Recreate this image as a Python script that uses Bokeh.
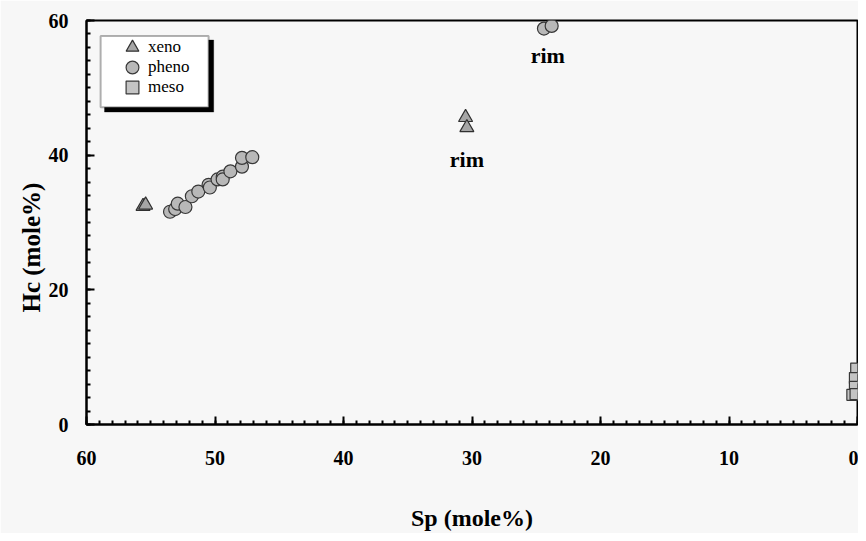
from bokeh.plotting import figure
from bokeh.models import (Range1d, SingleIntervalTicker, Legend, LegendItem,
                          BoxAnnotation, Title)
from bokeh.core.properties import value
from bokeh.embed import file_html
from bokeh.resources import INLINE

# ---- data (Sp mole%, Hc mole%) ----
xeno_sp = [55.6, 55.4, 30.5, 30.4]
xeno_hc = [32.4, 32.6, 45.6, 44.1]

pheno_sp = [53.5, 53.1, 52.9, 52.3, 51.8, 51.3, 50.5, 50.4, 49.8, 49.4,
            49.4, 48.8, 47.9, 47.9, 47.1, 24.4, 23.8]
pheno_hc = [31.6, 32.0, 32.8, 32.3, 33.9, 34.6, 35.6, 35.2, 36.4, 36.8,
            36.4, 37.6, 38.3, 39.6, 39.7, 58.8, 59.2]

meso_sp = [0.1, 0.2, 0.2, 0.4, 0.15]
meso_hc = [8.3, 6.9, 5.6, 4.4, 4.5]

rim_sp = [30.4, 24.1]
rim_hc = [39.3, 54.8]
rim_text = ["rim", "rim"]

legend_labels = ["xeno", "pheno", "meso"]

SERIF = "Liberation Serif"
BG = "#f7f7f7"

p = figure(width=858, height=533, output_backend="svg", toolbar_location=None,
           x_range=Range1d(60, 0), y_range=Range1d(0, 60),
           min_border_left=86, min_border_right=1, min_border_top=20,
           min_border_bottom=103)
p.background_fill_color = BG
p.border_fill_color = BG
p.outline_line_color = "black"
p.outline_line_width = 2
p.grid.visible = False

p.xaxis.ticker = SingleIntervalTicker(interval=10, num_minor_ticks=10)
p.yaxis.ticker = SingleIntervalTicker(interval=20, num_minor_ticks=10)

for ax in (p.xaxis, p.yaxis):
    ax.axis_line_color = "black"
    ax.axis_line_width = 2
    ax.major_tick_line_color = "black"
    ax.major_tick_line_width = 2
    ax.minor_tick_line_color = "black"
    ax.minor_tick_line_width = 2
    ax.major_tick_in = 8
    ax.major_tick_out = 0
    ax.minor_tick_in = 4
    ax.minor_tick_out = 0
    ax.major_label_text_font = SERIF
    ax.major_label_text_font_style = "bold"
    ax.major_label_text_font_size = "20px"
    ax.major_label_text_color = "black"
    ax.axis_label_text_font = SERIF
    ax.axis_label_text_font_style = "bold"
    ax.axis_label_text_font_size = "24px"
    ax.axis_label_text_color = "black"

p.xaxis.axis_label = "Sp (mole%)"
p.xaxis.major_label_standoff = 26
p.xaxis.axis_label_standoff = 37
p.yaxis.major_label_standoff = 18

# y-axis title, placed a little below the frame centre as in the original
p.add_layout(Title(text="Hc (mole%)", align="left", offset=112,
                   text_font=SERIF, text_font_style="bold",
                   text_font_size="25px", text_color="black",
                   standoff=2), "left")

r_xeno = p.scatter(xeno_sp, xeno_hc, marker="triangle", size=14,
                   fill_color="#a6a6a6", line_color="#303030", line_width=1.2)
r_pheno = p.scatter(pheno_sp, pheno_hc, marker="circle", size=13,
                    fill_color="#b8b8b8", line_color="#383838", line_width=1.2)
r_meso = p.scatter(meso_sp, meso_hc, marker="square", size=11,
                   fill_color="#c4c4c4", line_color="#383838", line_width=1.2)

p.text(x=rim_sp, y=rim_hc, text=rim_text, text_font=value(SERIF),
       text_font_style="bold", text_font_size="22px", text_align="center",
       text_baseline="middle", text_color="black")

# legend frame (shadow + box)
shadow = BoxAnnotation(left=58.6, right=50.1, top=57.1, bottom=46.4,
                       fill_color="black", fill_alpha=1, line_color="black")
box = BoxAnnotation(left=58.9, right=50.5, top=57.7, bottom=47.1,
                    fill_color="white", fill_alpha=1, line_color="black",
                    line_width=2)
p.add_layout(shadow)
p.add_layout(box)

# one single-entry legend per row, so glyphs can be large with tight rows
for i, (lab, r) in enumerate(zip(legend_labels, [r_xeno, r_pheno, r_meso])):
    lg = Legend(items=[LegendItem(label=lab, renderers=[r])],
                location=(30, 361 - 20 * i), padding=0, spacing=0,
                glyph_width=32, glyph_height=32, label_height=32,
                label_standoff=-5, border_line_alpha=0,
                background_fill_alpha=0, label_text_font=SERIF,
                label_text_font_size="17px", label_text_color="black",
                margin=0)
    p.add_layout(lg, "center")

open("out.html", "w").write(file_html(p, INLINE))
